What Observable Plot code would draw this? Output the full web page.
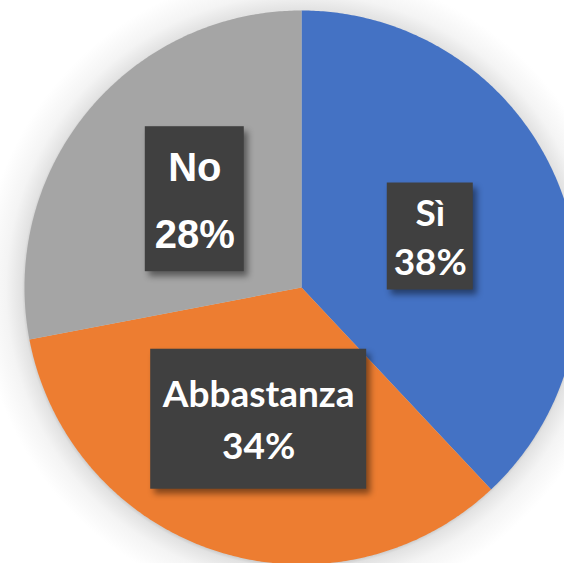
<!DOCTYPE html>
<html><head><meta charset="utf-8">
<script src="https://cdn.jsdelivr.net/npm/d3@7"></script>
<script src="https://cdn.jsdelivr.net/npm/@observablehq/plot@0.6"></script>
<style>html,body{margin:0;padding:0;background:#fff;overflow:hidden;}</style>
</head><body><div id="chart"></div>
<script>
const categories = ["Sì", "Abbastanza", "No"];
const values = [38, 34, 28];
const colors = ["#4472C4", "#ED7D31", "#A5A5A5"];

// label styling (not data)
const labelStyle = {
  "Sì":         {w: 86,  h: 107, font: "Lato, 'Open Sans', sans-serif", size: 37, nameDy: -22,   pctDy: 27},
  "Abbastanza": {w: 216, h: 140, font: "Lato, 'Open Sans', sans-serif", size: 37, nameDy: -24, pctDy: 27.5},
  "No":         {w: 99,  h: 145, font: "'Liberation Sans', Arial, sans-serif", size: 40, nameDy: -31, pctDy: 36}
};
const R = 277; // pixel radius

const total = d3.sum(values);
let acc = 0;
const slices = categories.map((c, i) => {
  const a0 = acc / total * 2 * Math.PI; acc += values[i];
  const a1 = acc / total * 2 * Math.PI;
  return {name: c, value: values[i], a0, a1, mid: (a0 + a1) / 2};
});
const pts = [];
for (const s of slices) {
  pts.push({name: s.name, x: 0, y: 0});
  const n = Math.ceil((s.a1 - s.a0) / (Math.PI / 360));
  for (let k = 0; k <= n; k++) {
    const a = s.a0 + (s.a1 - s.a0) * k / n;
    pts.push({name: s.name, x: Math.sin(a), y: Math.cos(a)});
  }
  pts.push({name: s.name, x: 0, y: 0});
}
const labels = slices.map(s => {
  const st = labelStyle[s.name];
  const lx = 0.5 * Math.sin(s.mid), ly = 0.5 * Math.cos(s.mid);
  return {name: s.name, pct: s.value + "%", x: lx, y: ly,
    x1: lx - st.w / 2 / R, x2: lx + st.w / 2 / R, y1: ly - st.h / 2 / R, y2: ly + st.h / 2 / R};
});

const textMarks = [];
for (const l of labels) {
  const st = labelStyle[l.name];
  textMarks.push(Plot.text([l], {x: "x", y: "y", text: "name", dy: st.nameDy, fill: "white",
    fontFamily: st.font, fontSize: st.size, fontWeight: "bold"}));
  textMarks.push(Plot.text([l], {x: "x", y: "y", text: "pct", dy: st.pctDy, fill: "white",
    fontFamily: st.font, fontSize: st.size, fontWeight: "bold"}));
}

const plot = Plot.plot({
  width: 564, height: 563,
  margin: 0,
  style: {background: "radial-gradient(circle at 301px 289px, #cfcfcf 0px, #cfcfcf 276px, #e2e2e2 279px, #f4f4f4 295px, #ffffff 320px)"},
  x: {domain: [-1, 1], range: [301 - R, 301 + R], axis: null},
  y: {domain: [-1, 1], range: [287 + R, 287 - R], axis: null},
  color: {domain: categories, range: colors},
  marks: [
    Plot.line(pts, {x: "x", y: "y", z: "name", fill: "name", stroke: "none", curve: "linear"}),
    Plot.rect(labels, {x1: "x1", x2: "x2", y1: "y1", y2: "y2", fill: "#404040", inset: 0}),
    ...textMarks
  ]
});
plot.querySelectorAll("g[aria-label='rect'] rect").forEach(r => r.style.filter = "drop-shadow(4px 5px 3px rgba(0,0,0,0.45))");
document.getElementById("chart").append(plot);
</script>
</body></html>
